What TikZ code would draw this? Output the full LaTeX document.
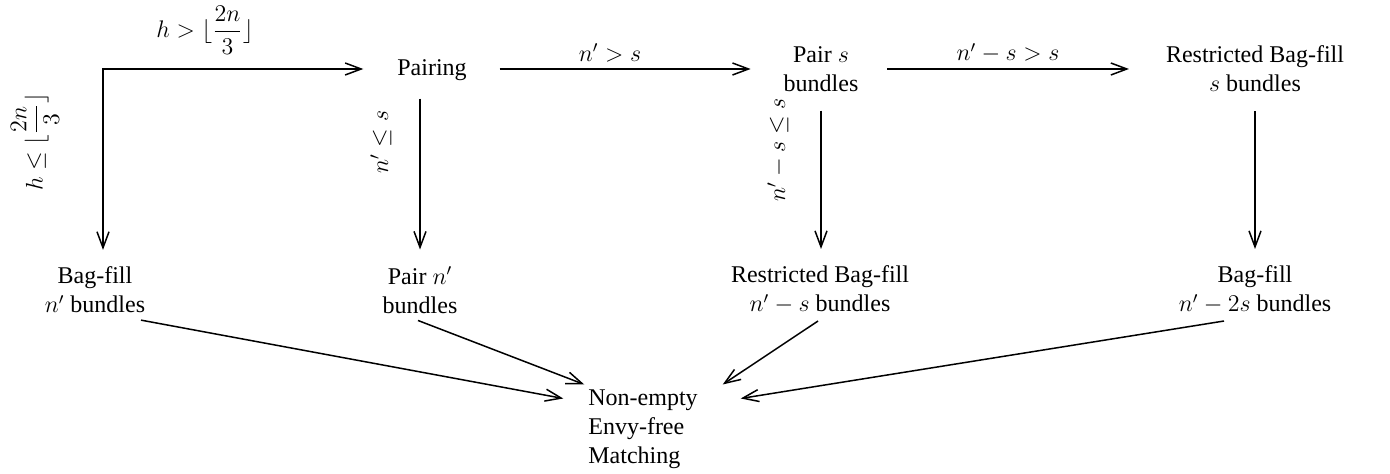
\documentclass[tikz,border=0pt]{standalone}
\usepackage{fontspec}
\setmainfont{Liberation Serif}
\usepackage{amsmath}
\usetikzlibrary{arrows.meta,calc}
\begin{document}
\begin{tikzpicture}[x=0.5pt,y=-0.5pt,
  font=\fontsize{12}{14.5}\selectfont,
  tip/.tip={Straight Barb[length=8pt,width=6pt,line width=0.75pt]},
  arr/.style={line width=0.75pt,-tip},
  box/.style={align=center},
  lbl/.style={inner sep=1pt}]
\useasboundingbox (0,0) rectangle (1390,474);
\node[box] (pairing) at (432,70) {Pairing};
\node[box] (pairs) at (821,69) {Pair $s$\\bundles};
\node[box] (rbs) at (1255,69) {Restricted Bag-fill\\$s$ bundles};
\node[box] (bf1) at (95,290) {Bag-fill\\$n'$ bundles};
\node[box] (pn) at (420,290) {Pair $n'$\\bundles};
\node[box] (rbns) at (820,290) {Restricted Bag-fill\\$n'-s$ bundles};
\node[box] (bf2) at (1255,290) {Bag-fill\\$n'-2s$ bundles};
\node[box,align=left] (fin) at (643,429) {Non-empty\\Envy-free\\Matching};
\coordinate (corner) at (103,69);
% labels
\node[lbl] (l1) at (205,30) {$h > \lfloor \dfrac{2n}{3} \rfloor$};
\node[lbl,rotate=90] (l2) at (35,142) {$h \le \lfloor \dfrac{2n}{3} \rfloor$};
\node[lbl,rotate=90] (l3) at (381,142) {$n' \le s$};
\node[lbl] (l4) at (610,53) {$n' > s$};
\node[lbl] (l5) at (1008,53) {$n' - s > s$};
\node[lbl,rotate=90] (l6) at (778,150) {$n' - s \le s$};
% connectors
\draw[line width=0.75pt,tip-tip] ($(bf1.north -| corner)+(0,-10)$) -- (corner) -- ($(pairing.west)+(-27,-1)$);
\draw[arr] ($(pairing.east)+(26,-1)$) -- ($(pairs.west)+(-26,0)$);
\draw[arr] ($(pairs.east)+(22,0)$) -- ($(rbs.west)+(-30,0)$);
\draw[arr] ($(pairing.south -| pn.north)+(0,11)$) -- ($(pn.north)+(0,-10)$);
\draw[arr] ($(pairs.south)+(0,12)$) -- ($(pairs.south |- rbns.north)+(0,-10)$);
\draw[arr] ($(rbs.south)+(0,12)$) -- ($(rbs.south |- bf2.north)+(0,-10)$);
\draw[arr] ($(bf1.south)+(46,0)$) -- ($(fin.north west)+(-18,16)$);
\draw[arr] ($(pn.south)+(-2,0)$) -- ($(fin.north west)+(3,2)$);
\draw[arr] ($(rbns.south)+(-2,0)$) -- ($(fin.north east)+(18,2)$);
\draw[arr] ($(bf2.south)+(-31,0)$) -- ($(fin.north east)+(36,16)$);
\end{tikzpicture}
\end{document}
